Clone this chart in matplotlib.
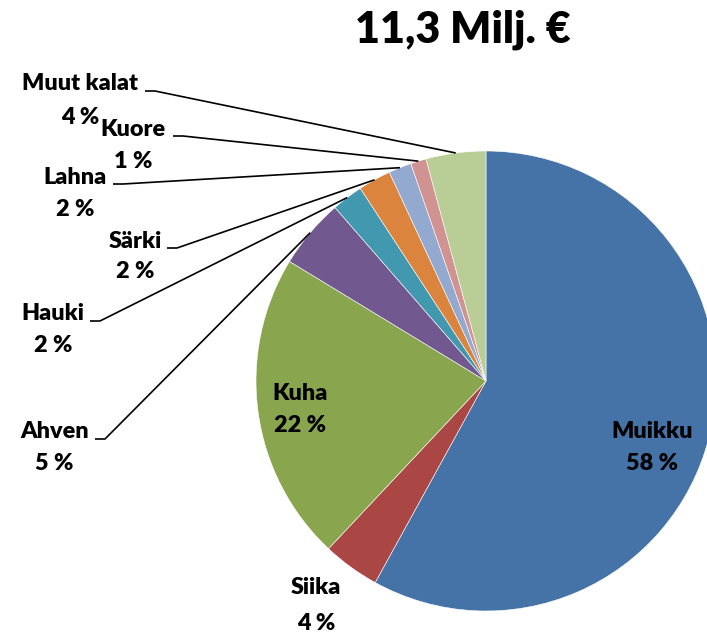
import numpy as np
import matplotlib.pyplot as plt

plt.rcParams['font.family'] = ['Lato', 'DejaVu Sans']

# Data (share of catch value, %)
species = ['Muikku', 'Siika', 'Kuha', 'Ahven', 'Hauki', 'Särki', 'Lahna', 'Kuore', 'Muut kalat']
shares = [58.0, 4.0, 21.7, 4.9, 2.2, 2.3, 1.6, 1.1, 4.2]
colors = ['#4572A7', '#AA4643', '#89A54E', '#71588F', '#4198AF',
          '#DB843D', '#93A9CF', '#D19392', '#B9CD96']
title = '11,3 Milj. €'

W, H = 707, 635
fig = plt.figure(figsize=(W / 100, H / 100), dpi=100)
ax = fig.add_axes([0, 0, 1, 1])
ax.set_xlim(0, W)
ax.set_ylim(0, H)
ax.set_aspect('equal')
ax.axis('off')

cx, cy, r = 486, H - 381, 230
wedges, _ = ax.pie(shares, colors=colors, startangle=90, counterclock=False,
                   center=(cx, cy), radius=r, frame=True,
                   wedgeprops=dict(edgecolor='white', linewidth=0.4))
ax.set_xlim(0, W)
ax.set_ylim(0, H)
ax.axis('off')


def Y(py):
    return H - py


fs = 16.8
# label positions in pixel coords (name centre, percent centre)
label_pos = {
    'Muikku': ((652, 431), (652, 464)),
    'Kuha': ((300, 393), (300, 425)),
    'Siika': ((316, 588), (316, 623)),
    'Ahven': ((55, 432), (54, 463)),
    'Hauki': ((53, 313), (53, 346)),
    'Särki': ((135, 241), (135, 272)),
    'Lahna': ((75, 177), (75, 209)),
    'Kuore': ((133, 129), (133, 161)),
    'Muut kalat': ((80, 84), (80, 117)),
}
# leader line start (left end of short horizontal tick)
leader_start = {
    'Ahven': (95, 439),
    'Hauki': (90, 321),
    'Särki': (167, 248),
    'Lahna': (113, 184),
    'Kuore': (173, 136),
    'Muut kalat': (145, 91),
}

for name, val, w in zip(species, shares, wedges):
    (nx, ny), (px, py) = label_pos[name]
    ax.text(nx, Y(ny), name, ha='center', va='center', fontsize=fs, fontweight='heavy', color='black')
    ax.text(px, Y(py), f'{val:.0f} %', ha='center', va='center', fontsize=fs, fontweight='heavy', color='black')
    if name in leader_start:
        mid = np.deg2rad((w.theta1 + w.theta2) / 2)
        ex, ey = cx + r * np.cos(mid), cy + r * np.sin(mid)
        sx, sy = leader_start[name]
        ax.plot([sx, sx + 10, ex], [Y(sy), Y(sy), ey], color='black', lw=1.2,
                solid_capstyle='butt', clip_on=False)

ax.text(463, Y(30), title, ha='center', va='center', fontsize=31, fontweight='heavy', color='black')

fig.savefig('out.png', dpi=100)
